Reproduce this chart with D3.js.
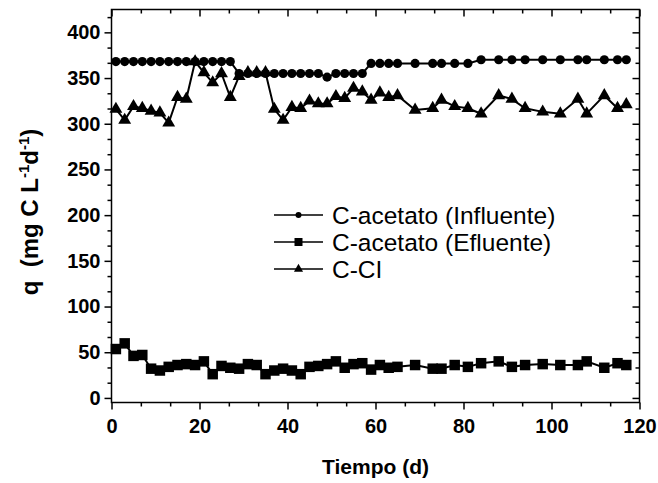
<!DOCTYPE html>
<html><head><meta charset="utf-8">
<script src="https://cdn.jsdelivr.net/npm/d3@7"></script>
<style>body{margin:0;background:#fff}svg{display:block}</style>
</head><body>
<svg id="c" width="658" height="483"></svg>
<script>
const days = [1,3,5,7,9,11,13,15,17,19,21,23,25,27,29,31,33,35,37,39,41,43,45,47,49,51,53,55,57,59,61,63,65,69,73,75,78,81,84,88,91,94,98,102,106,108,112,115,117];
const influente = [368,368,368,368,368,368,368,368,368,368,368,368,368,368,355,355,355,355,355,355,355,355,355,355,351,355,355,355,355,366,366,366,366,366,366,366,366,366,370,370,370,370,370,370,370,370,370,370,370];
const efluente = [53.5,59.7,46,47,32,30,34,36,37,36,40,26,35,33,32,37,36,26,30,32,30,26,34,35,37,40,33,37,38,31,36,33,34,36,32,32,36,34,38,40,34,36,37,36,36,40,33,38,36];
const cci = [316,304,319,317,314,312,301,329,327,368,356,345,355,329,352,356,356,356,316,304,318,317,325,322,322,330,328,339,335,326,334,329,331,315,317,326,319,317,311,331,327,317,313,311,327,311,331,317,321];
const seriesNames = ["C-acetato (Influente)", "C-acetato (Efluente)", "C-CI"];
const xTicks = [0,20,40,60,80,100,120];
const yTicks = [0,50,100,150,200,250,300,350,400];

const svg = d3.select("#c");
const L = 111.5, R = 639.5, T = 9.5, B = 402.5;
const x = d3.scaleLinear().domain([0,120]).range([L,R]);
const y = d3.scaleLinear().domain([-5,425]).range([B,T]);

const xMinor = d3.range(0,121,20/3).filter(v => !xTicks.some(t => Math.abs(t-v)<1e-6));
const yMinor = d3.range(0,425,50/3).filter(v => !yTicks.some(t => Math.abs(t-v)<1e-6));

const font = "'Liberation Sans', Arial, sans-serif";

function styleAxis(g){
  g.select(".domain").remove();
  g.selectAll("line").attr("stroke","#000").attr("stroke-width",1.5);
  g.selectAll("text").attr("font-family",font).attr("font-weight","bold").attr("font-size",20).attr("fill","#000");
}
// bottom
svg.append("g").attr("transform",`translate(0,${B})`)
  .call(d3.axisBottom(x).tickValues(xTicks).tickSize(7).tickPadding(9).tickFormat(d3.format("d")))
  .call(styleAxis);
svg.append("g").attr("transform",`translate(0,${B})`)
  .call(d3.axisBottom(x).tickValues(xMinor).tickSize(4).tickFormat(""))
  .call(styleAxis);
// top (inward)
svg.append("g").attr("transform",`translate(0,${T})`)
  .call(d3.axisBottom(x).tickValues(xTicks).tickSize(7).tickFormat(""))
  .call(styleAxis);
svg.append("g").attr("transform",`translate(0,${T})`)
  .call(d3.axisBottom(x).tickValues(xMinor).tickSize(4).tickFormat(""))
  .call(styleAxis);
// left
svg.append("g").attr("transform",`translate(${L},0)`)
  .call(d3.axisLeft(y).tickValues(yTicks).tickSize(7).tickPadding(4).tickFormat(d3.format("d")))
  .call(styleAxis);
svg.append("g").attr("transform",`translate(${L},0)`)
  .call(d3.axisLeft(y).tickValues(yMinor).tickSize(4).tickFormat(""))
  .call(styleAxis);
// right (inward)
svg.append("g").attr("transform",`translate(${R},0)`)
  .call(d3.axisLeft(y).tickValues(yTicks).tickSize(7).tickFormat(""))
  .call(styleAxis);
svg.append("g").attr("transform",`translate(${R},0)`)
  .call(d3.axisLeft(y).tickValues(yMinor).tickSize(4).tickFormat(""))
  .call(styleAxis);

svg.append("rect").attr("x",L).attr("y",T).attr("width",R-L).attr("height",B-T)
  .attr("fill","none").attr("stroke","#000").attr("stroke-width",1.5);

const line = d3.line().x(d=>x(d[0])).y(d=>y(d[1]));
const data = [influente, efluente, cci].map(v => days.map((d,i)=>[d,v[i]]));
const symbols = [d3.symbolCircle, d3.symbolSquare, d3.symbolTriangle];
const sizes = [66, 110, 72];
const legSizes = [28, 64, 36];

data.forEach((pts,k)=>{
  svg.append("path").datum(pts).attr("d",line).attr("fill","none").attr("stroke","#000").attr("stroke-width",2);
  svg.append("g").selectAll("path").data(pts).join("path")
    .attr("transform",d=>`translate(${x(d[0])},${y(d[1])})`)
    .attr("d",d3.symbol().type(symbols[k]).size(sizes[k]))
    .attr("fill","#000");
});

// legend
const leg = svg.append("g");
seriesNames.forEach((name,k)=>{
  const ly = 215 + k*27;
  leg.append("line").attr("x1",274).attr("x2",323).attr("y1",ly).attr("y2",ly).attr("stroke","#000").attr("stroke-width",1.5);
  leg.append("path").attr("transform",`translate(298.5,${ly})`).attr("d",d3.symbol().type(symbols[k]).size(legSizes[k])).attr("fill","#000");
  leg.append("text").attr("x",332).attr("y",ly).attr("dy","0.36em").attr("font-family",font).attr("font-size",24.5).attr("fill","#000").text(name);
});

// axis titles
svg.append("text").attr("x",(L+R)/2).attr("y",474).attr("text-anchor","middle")
  .attr("font-family",font).attr("font-weight","bold").attr("font-size",21).text("Tiempo (d)");

const yt = svg.append("text").attr("transform",`translate(38,212) rotate(-90)`).attr("text-anchor","middle")
  .attr("font-family",font).attr("font-weight","bold").attr("font-size",24).attr("xml:space","preserve");
yt.append("tspan").text("q  (mg C L");
yt.append("tspan").attr("font-size",15).attr("dy",-9).text("-1");
yt.append("tspan").attr("dy",9).text("d");
yt.append("tspan").attr("font-size",15).attr("dy",-9).text("-1");
yt.append("tspan").attr("dy",9).text(")");
</script>
</body></html>
